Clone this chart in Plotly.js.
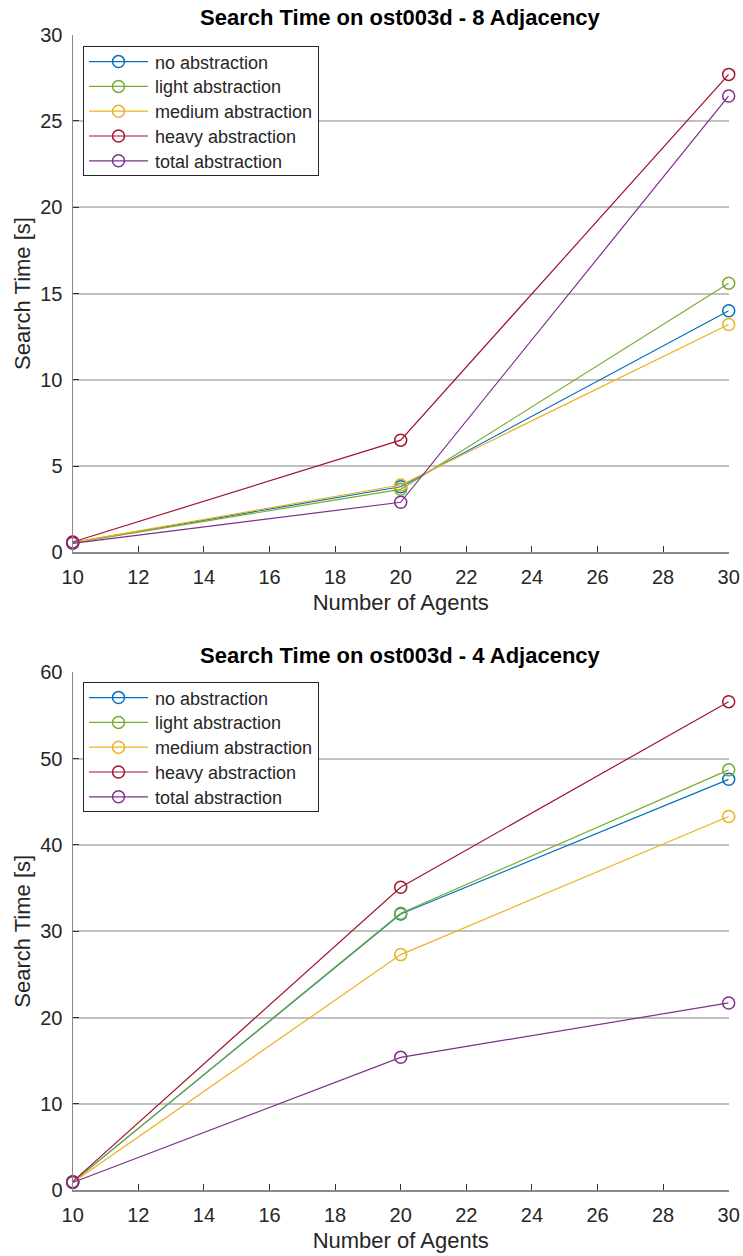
<!DOCTYPE html>
<html>
<head>
<meta charset="utf-8">
<script src="https://cdn.plot.ly/plotly-3.0.1.min.js"></script>
<style>
  html, body { margin: 0; padding: 0; background: #ffffff; }
  #chart { width: 743px; height: 1256px; }
</style>
</head>
<body>
<div id="chart"></div>
<script>
// ---- Data ----
const agents = [10, 20, 30];
const seriesNames = ["no abstraction", "light abstraction", "medium abstraction", "heavy abstraction", "total abstraction"];
const seriesColors = ["#0072BD", "#77AC30", "#EDB120", "#A2142F", "#7E2F8E"];

// 8 Adjacency search times [s]
const adj8_no     = [0.56, 3.80, 14.00];
const adj8_light  = [0.55, 3.65, 15.60];
const adj8_medium = [0.58, 3.90, 13.20];
const adj8_heavy  = [0.60, 6.50, 27.70];
const adj8_total  = [0.52, 2.90, 26.45];

// 4 Adjacency search times [s]
const adj4_no     = [0.95, 32.00, 47.60];
const adj4_light  = [0.95, 32.10, 48.70];
const adj4_medium = [0.90, 27.30, 43.30];
const adj4_heavy  = [1.00, 35.10, 56.60];
const adj4_total  = [0.90, 15.40, 21.70];

const xTicks = [10, 12, 14, 16, 18, 20, 22, 24, 26, 28, 30];
const titleTop = "Search Time on ost003d - 8 Adjacency";
const titleBottom = "Search Time on ost003d - 4 Adjacency";
const xLabel = "Number of Agents";
const yLabel = "Search Time [s]";

// ---- Build ----
const W = 743, H = 1256;
const FONT = '"Liberation Sans", Arial, Helvetica, sans-serif';
const px = v => v / W;
const py = v => 1 - v / H;

const adj8 = [adj8_no, adj8_light, adj8_medium, adj8_heavy, adj8_total];
const adj4 = [adj4_no, adj4_light, adj4_medium, adj4_heavy, adj4_total];

const traces = [];
function addSet(data, xa, ya, leg) {
  data.forEach((ys, i) => {
    traces.push({
      x: agents, y: ys, type: "scatter", mode: "lines+markers",
      name: seriesNames[i], xaxis: xa, yaxis: ya, legend: leg,
      line: { color: seriesColors[i], width: 1.2 },
      marker: { symbol: "circle-open", size: 12, color: seriesColors[i], line: { width: 1.5, color: seriesColors[i] } },
      cliponaxis: false,
      hoverinfo: "x+y+name"
    });
  });
}
addSet(adj8, "x", "y", "legend");
addSet(adj4, "x2", "y2", "legend2");

const xDom = [px(72.7), px(728.7)];
const axisCommon = {
  showline: true, linecolor: "#8a8a8a", linewidth: 1.2,
  ticks: "inside", ticklen: 6, tickwidth: 1, tickcolor: "#333333",
  tickfont: { family: FONT, size: 20, color: "#262626" },
  zeroline: false, mirror: false
};

function xaxisDef(anchor) {
  return Object.assign({}, axisCommon, {
    domain: xDom, anchor: anchor, range: [10, 30],
    tickmode: "array", tickvals: xTicks, ticktext: xTicks.map(String),
    showgrid: false, ticklabelstandoff: 6,
    title: { text: xLabel, font: { family: FONT, size: 22, color: "#262626" }, standoff: 8 }
  });
}
function yaxisDef(anchor, dom, maxv, dt) {
  return Object.assign({}, axisCommon, {
    domain: dom, anchor: anchor, range: [0, maxv],
    tick0: 0, dtick: dt, ticklabelstandoff: 5,
    showgrid: true, gridcolor: "#c0c0c0", gridwidth: 2,
    title: { text: yLabel, font: { family: FONT, size: 22, color: "#262626" }, standoff: 3 }
  });
}

const legendCommon = {
  bgcolor: "#ffffff", bordercolor: "#262626", borderwidth: 1,
  font: { family: FONT, size: 18, color: "#262626" },
  xanchor: "left", yanchor: "top", tracegroupgap: 0, itemwidth: 61
};

const layout = {
  width: W, height: H,
  margin: { l: 0, r: 0, t: 0, b: 0 },
  paper_bgcolor: "#ffffff", plot_bgcolor: "#ffffff",
  font: { family: FONT, color: "#262626" },
  showlegend: true,
  xaxis: xaxisDef("y"),
  yaxis: yaxisDef("x", [py(552.3), py(34.7)], 30, 5),
  xaxis2: xaxisDef("y2"),
  yaxis2: yaxisDef("x2", [py(1190.3), py(672.3)], 60, 10),
  legend: Object.assign({}, legendCommon, { x: px(83), y: py(45.7) }),
  legend2: Object.assign({}, legendCommon, { x: px(83), y: py(681.7) }),
  annotations: [
    { text: "<b>" + titleTop + "</b>", xref: "paper", yref: "paper",
      x: (xDom[0] + xDom[1]) / 2, y: py(17), xanchor: "center", yanchor: "middle",
      showarrow: false, font: { family: FONT, size: 22, color: "#000000" } },
    { text: "<b>" + titleBottom + "</b>", xref: "paper", yref: "paper",
      x: (xDom[0] + xDom[1]) / 2, y: py(655), xanchor: "center", yanchor: "middle",
      showarrow: false, font: { family: FONT, size: 22, color: "#000000" } }
  ]
};

Plotly.newPlot("chart", traces, layout, { displayModeBar: false, staticPlot: true }).then(gd => {
  // MATLAB-style legend samples: longer line, marker centred, tighter rows
  ["legend", "legend2"].forEach(cls => {
    const lg = gd.querySelector("g." + cls);
    if (!lg) return;
    let y0 = null;
    lg.querySelectorAll("g.traces").forEach((t, i) => {
      t.querySelectorAll(".legendlines path").forEach(p => p.setAttribute("d", "M5,0h59"));
      t.querySelectorAll(".legendpoints path").forEach(p => p.setAttribute("transform", "translate(34.5,0)"));
      const m = /translate\(\s*([-\d.e]+)[ ,]+([-\d.e]+)\s*\)/.exec(t.getAttribute("transform") || "");
      if (m) {
        const tx = parseFloat(m[1]), ty = parseFloat(m[2]);
        if (y0 === null) y0 = ty;
        t.setAttribute("transform", "translate(" + tx + "," + (y0 - 3.3 + 24.8 * i) + ")");
      }
    });
    const bg = lg.querySelector("rect.bg");
    if (bg) bg.setAttribute("height", "129.3");
  });
});
</script>
</body>
</html>
